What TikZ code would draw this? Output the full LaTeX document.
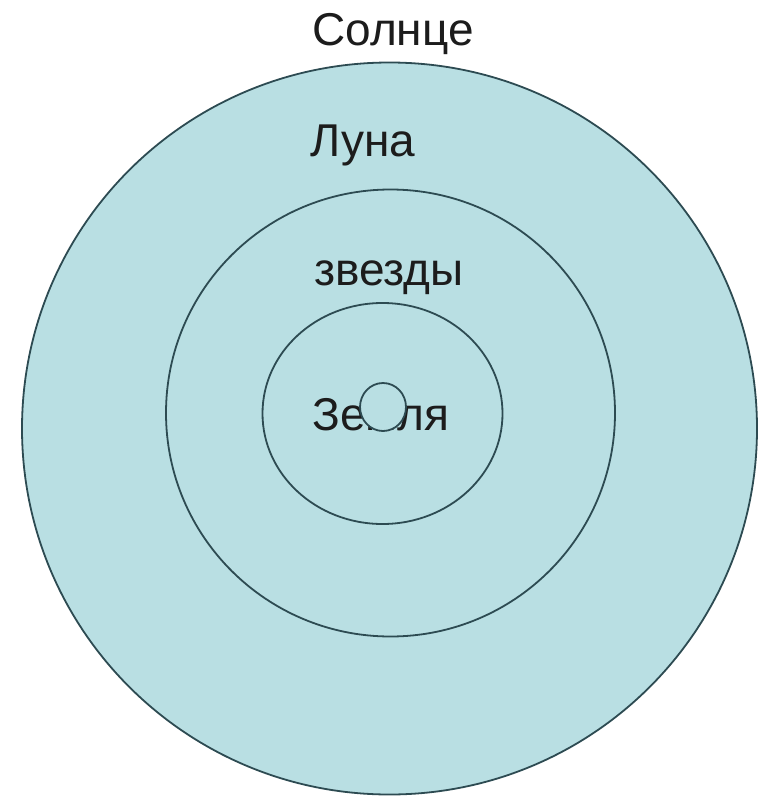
\documentclass[tikz,border=0pt]{standalone}
\usepackage{fontspec}
\setmainfont{Liberation Sans}
\usetikzlibrary{shapes.geometric}
\definecolor{skyfill}{RGB}{185,223,227}
\definecolor{ringline}{RGB}{45,75,82}
\definecolor{labeltext}{RGB}{28,28,28}
\begin{document}
\begin{tikzpicture}[x=1pt,y=-1pt,
  sphere/.style={ellipse,draw=ringline,fill=skyfill,line width=1.8pt,inner sep=0pt},
  lbl/.style={font=\fontsize{46}{46}\selectfont,text=labeltext,inner sep=0pt,anchor=base}]
\useasboundingbox (0,0) rectangle (759,797);
\node[sphere,minimum width=735pt,minimum height=732pt] (sun) at (389.5,428.5) {};
\node[sphere,minimum width=449pt,minimum height=447pt] (stars) at (390.5,413) {};
\node[sphere,minimum width=240pt,minimum height=221pt] (earthring) at (382.5,413.5) {};
\node[lbl] (tsun) at (393,46) {Солнце};
\node[lbl] (tmoon) at (363,156) {Луна};
\node[lbl] (tstars) at (389,285) {звезды};
\node[lbl] (tearth) at (381,430) {Земля};
\node[sphere,minimum width=46pt,minimum height=48pt] (earth) at (383,407) {};
\end{tikzpicture}
\end{document}
